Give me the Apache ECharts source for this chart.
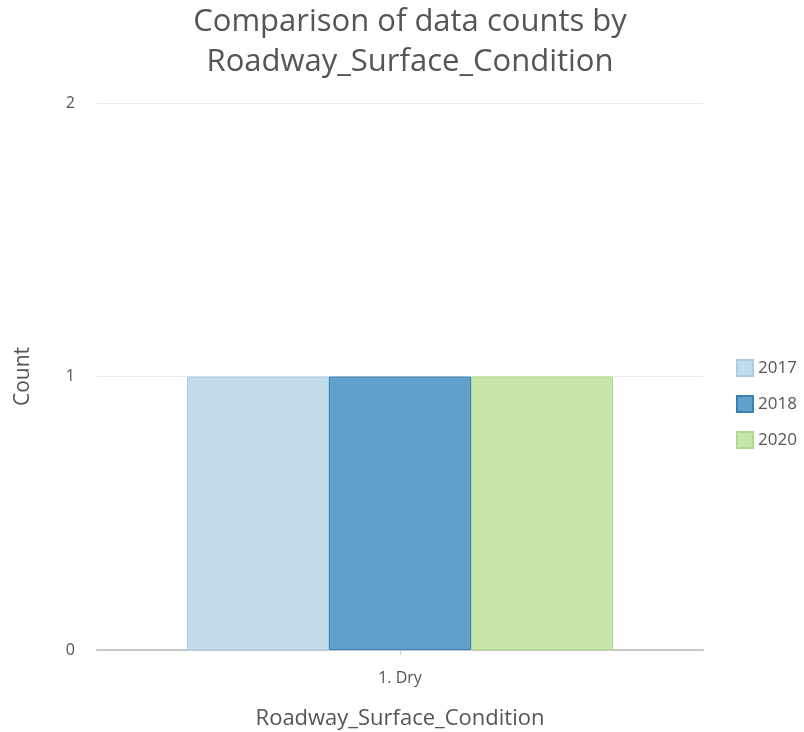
<!DOCTYPE html>
<html>
<head>
<meta charset="utf-8">
<script src="https://cdn.jsdelivr.net/npm/echarts@6/dist/echarts.min.js"></script>
<style>
  html, body { margin: 0; padding: 0; background: #fff; }
  #chart { width: 804px; height: 732px; }
</style>
</head>
<body>
<div id="chart"></div>
<script>
const categories = ['1. Dry']
const seriesNames = ['2017', '2018', '2020']
const values2017 = [1]
const values2018 = [1]
const values2020 = [1]
const yTicks = [0, 1, 2]

const fills = ['#c1dcea', '#62a1cb', '#c8e6aa']
const borders = ['#a9cfe4', '#3b80b9', '#afdb8c']
const seriesData = [values2017, values2018, values2020]

const chart = echarts.init(document.getElementById('chart'))
const font = '"Open Sans", "Noto Sans", sans-serif'

const option = {
  backgroundColor: '#fff',
  animation: false,
  title: {
    text: 'Comparison of data counts by\nRoadway_Surface_Condition',
    left: 405,
    textAlign: 'center',
    top: -3,
    textStyle: {
      fontFamily: font,
      fontWeight: 'normal',
      fontSize: 31,
      lineHeight: 40,
      color: '#555',
    },
  },
  legend: {
    orient: 'vertical',
    left: 731,
    top: 354,
    itemWidth: 16,
    itemHeight: 16,
    itemGap: 18,
    icon: 'rect',
    data: seriesNames,
    textStyle: {
      fontFamily: font,
      fontSize: 17,
      color: '#555',
    },
  },
  grid: {
    left: 97,
    right: 101,
    top: 103,
    bottom: 82,
    outerBoundsMode: 'none',
  },
  xAxis: {
    type: 'category',
    data: categories,
    name: 'Roadway_Surface_Condition',
    nameLocation: 'middle',
    nameGap: 58,
    nameTextStyle: {
      fontFamily: font,
      fontSize: 22,
      color: '#555',
    },
    axisLine: { lineStyle: { color: '#c8c8c8', width: 2 } },
    axisTick: { show: true, alignWithLabel: true, length: 5, lineStyle: { color: '#ccc' } },
    axisLabel: {
      fontFamily: font,
      fontSize: 16,
      color: '#555',
      margin: 20,
    },
  },
  yAxis: {
    type: 'value',
    min: yTicks[0],
    max: yTicks[yTicks.length - 1],
    interval: 1,
    name: 'Count',
    nameLocation: 'middle',
    nameGap: 63,
    nameTextStyle: {
      fontFamily: font,
      fontSize: 21,
      color: '#555',
    },
    axisLine: { show: false },
    axisTick: { show: false },
    axisLabel: {
      fontFamily: font,
      fontSize: 16,
      color: '#555',
      margin: 22,
    },
    splitLine: { lineStyle: { color: '#ebebeb', width: 1 } },
  },
  series: seriesNames.map((name, i) => ({
    name: name,
    type: 'bar',
    data: seriesData[i],
    barGap: '0%',
    barCategoryGap: '29.7%',
    itemStyle: {
      color: fills[i],
      borderColor: borders[i],
      borderWidth: 1,
    },
  })),
}

chart.setOption(option)
</script>
</body>
</html>
